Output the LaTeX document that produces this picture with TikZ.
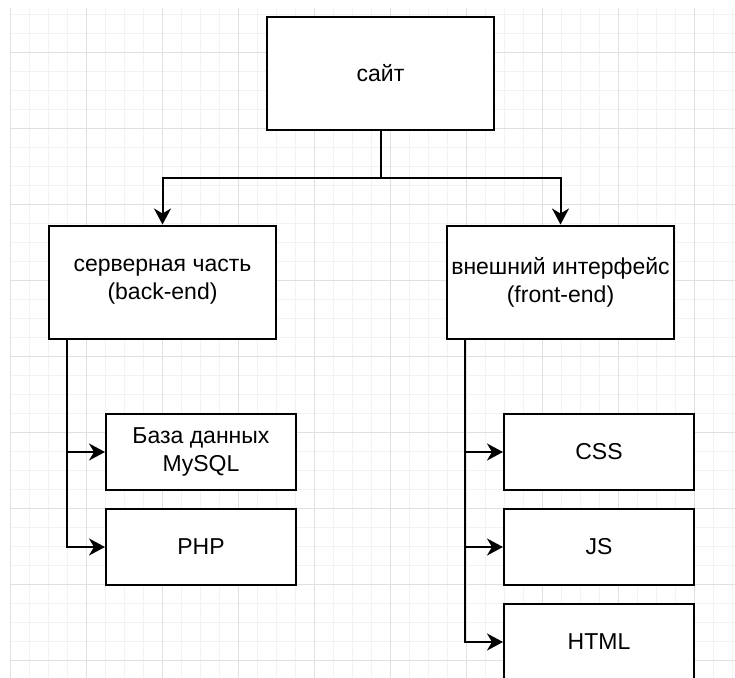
\documentclass[tikz,border=0pt]{standalone}
\usepackage{fontspec}
\setmainfont{Liberation Sans}
\usetikzlibrary{arrows.meta}

\begin{document}
\begin{tikzpicture}[x=0.5pt, y=-0.5pt,
    bigbox/.style={draw, line width=1pt, fill=white, inner xsep=1pt, minimum width=113.5pt, minimum height=56.5pt, align=center, font=\fontsize{11.5}{14}\selectfont},
    smallbox/.style={bigbox, minimum width=95pt, minimum height=38pt},
    link/.style={line width=1pt, -{Stealth[length=8pt, width=8.5pt, inset=2.5pt]}},
    gridminor/.style={draw=black!5, line width=0.5pt},
    gridmajor/.style={draw=black!12, line width=0.5pt}]
    \useasboundingbox (0,0) rectangle (735,677);

    % Griglia di sfondo
    \begin{scope}
        \clip (10,8) rectangle (735,677);
        \foreach \i in {0,...,38}
            \draw[gridminor] ({10.7+19*\i},8) -- ++(0,670);
        \foreach \i in {0,...,35}
            \draw[gridminor] (10,{14.3+19*\i}) -- ++(725,0);
        \foreach \i in {0,...,9}
            \draw[gridmajor] ({10.7+76*\i},8) -- ++(0,670);
        \foreach \i in {0,...,8}
            \draw[gridmajor] (10,{52.3+76*\i}) -- ++(725,0);
    \end{scope}

    % Nodi
    \node[bigbox] (site) at (380.5,73.5) {сайт};
    \node[bigbox] (back) at (162.5,282) {серверная часть\\(back-end)};
    \node[bigbox] (front) at (560.5,282) {внешний интерфейс\\(front-end)};

    \node[smallbox] (mysql) at (201,452) {База данных\\MySQL};
    \node[smallbox] (php) at (201,547) {PHP};

    \node[smallbox] (css) at (599,452) {CSS};
    \node[smallbox] (js) at (599,547) {JS};
    \node[smallbox] (html) at (599,642) {HTML};

    % Collegamenti
    \draw[link] (site.south) -- ++(0,47) -| (back.north);
    \draw[link] (site.south) -- ++(0,47) -| (front.north);

    \foreach \child in {mysql,php}
        \draw[link] ([xshift=9.5pt]back.south west) |- (\child.west);
    \foreach \child in {css,js,html}
        \draw[link] ([xshift=9.5pt]front.south west) |- (\child.west);
\end{tikzpicture}
\end{document}
